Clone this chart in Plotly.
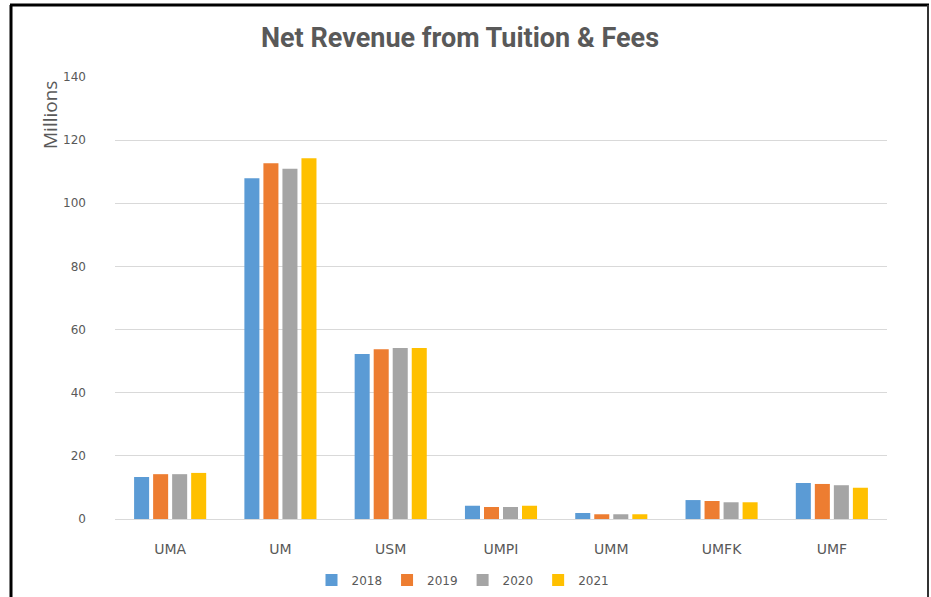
import plotly.graph_objects as go

campuses = ["UMA", "UM", "USM", "UMPI", "UMM", "UMFK", "UMF"]
years = ["2018", "2019", "2020", "2021"]
v2018 = [13.3, 107.9, 52.3, 4.2, 1.9, 6.0, 11.4]
v2019 = [14.2, 112.7, 53.8, 3.8, 1.5, 5.7, 11.1]
v2020 = [14.2, 110.9, 54.2, 3.8, 1.5, 5.3, 10.7]
v2021 = [14.6, 114.3, 54.2, 4.2, 1.5, 5.3, 9.9]
colors = ["#5B9BD5", "#ED7D31", "#A5A5A5", "#FFC000"]
yticks = [0, 20, 40, 60, 80, 100, 120, 140]

W, H = 931, 597
L, R, T, B = 115, 44, 77, 78
pw, ph = W - L - R, H - T - B

def px_x(px):
    return (px - L) / pw

def px_y(py):
    return (H - B - py) / ph

fig = go.Figure()
for yr, vals, c in zip(years, [v2018, v2019, v2020, v2021], colors):
    fig.add_trace(go.Bar(name=yr, x=campuses, y=vals, marker=dict(color=c, line=dict(width=0))))

font_family = "DejaVu Sans, sans-serif"
gray = "#595959"

fig.update_layout(
    width=W, height=H,
    margin=dict(l=L, r=R, t=T, b=B, autoexpand=False),
    paper_bgcolor="white", plot_bgcolor="white",
    barmode="group", bargap=0.31, bargroupgap=0.21,
    title=dict(text="<b>Net Revenue from Tuition &amp; Fees</b>", x=px_x(460), xref="paper",
               xanchor="center", y=1 - 38 / H, yanchor="middle",
               font=dict(family="Roboto, sans-serif", size=27, color=gray)),
    font=dict(family=font_family, color=gray, size=12),
    showlegend=True,
    legend=dict(orientation="h", x=px_x(463), xanchor="center", y=px_y(580), yanchor="middle",
                font=dict(size=12, color=gray, family=font_family), itemwidth=30, traceorder="normal",
                itemsizing="constant"),
    xaxis=dict(showgrid=False, showline=True, linecolor="#D9D9D9", linewidth=1,
               ticks="", tickfont=dict(size=14, color=gray), ticklabelstandoff=17),
    yaxis=dict(range=[0, 140], tickvals=yticks, showgrid=True, gridcolor="#D9D9D9", gridwidth=1,
               zeroline=False, showline=False, ticks="", tickfont=dict(size=12, color=gray),
               ticklabelstandoff=28),
)

fig.add_annotation(text="Millions", textangle=-90, xref="paper", yref="paper",
                   x=px_x(50), y=px_y(115), xanchor="center", yanchor="middle",
                   showarrow=False, font=dict(size=19, color=gray, family="Open Sans, sans-serif"))

# outer frame
fig.add_shape(type="line", xref="paper", yref="paper", x0=px_x(11), x1=px_x(11),
              y0=px_y(5), y1=px_y(600), line=dict(color="black", width=3))
fig.add_shape(type="line", xref="paper", yref="paper", x0=px_x(10), x1=px_x(929),
              y0=px_y(5), y1=px_y(5), line=dict(color="black", width=3))
fig.add_shape(type="line", xref="paper", yref="paper", x0=px_x(928), x1=px_x(928),
              y0=px_y(5), y1=px_y(600), line=dict(color="#333333", width=2))

fig.write_html("out.html")
